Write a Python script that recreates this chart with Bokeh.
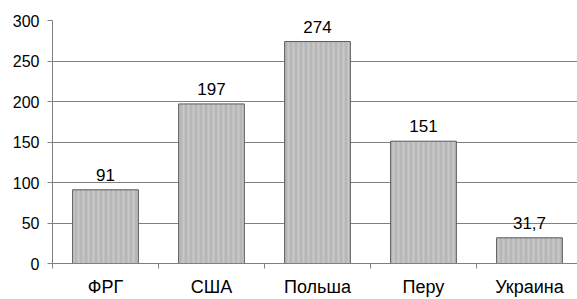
from bokeh.plotting import figure
from bokeh.models import ColumnDataSource, Range1d, FixedTicker
from bokeh.core.properties import value
from bokeh.embed import file_html
from bokeh.resources import INLINE

categories = ["ФРГ", "США", "Польша", "Перу", "Украина"]
values = [91, 197, 274, 151, 31.7]
value_labels = ["91", "197", "274", "151", "31,7"]
y_ticks = [0, 50, 100, 150, 200, 250, 300]

xs = list(range(len(categories)))
src = ColumnDataSource(dict(x=xs, top=values, lab=value_labels))

p = figure(width=577, height=299, output_backend="svg", toolbar_location=None,
           x_range=Range1d(-0.5, 4.453), y_range=Range1d(0, 300),
           min_border_left=52, min_border_right=0, min_border_top=20, min_border_bottom=36)
p.outline_line_color = None
p.background_fill_color = "white"
p.border_fill_color = "white"

p.vbar(x="x", top="top", bottom=0, width=0.62, source=src,
       fill_color="#b7b7b7", line_color="#5a5a5a", line_width=1,
       hatch_pattern="vertical_line", hatch_color="#c8c8c8", hatch_scale=5, hatch_weight=2)

p.text(x="x", y="top", text="lab", source=src, y_offset=-9,
       text_align="center", text_baseline="bottom",
       text_font=value("Liberation Sans"), text_font_size="17px", text_color="black")

# y axis
p.yaxis.ticker = FixedTicker(ticks=y_ticks)
p.yaxis.axis_line_color = "#808080"
p.yaxis.major_tick_line_color = "#808080"
p.yaxis.major_tick_out = 5
p.yaxis.major_tick_in = 0
p.yaxis.minor_tick_line_color = None
p.yaxis.major_label_text_font = "Liberation Sans"
p.yaxis.major_label_text_font_size = "16px"
p.yaxis.major_label_text_color = "black"
p.yaxis.major_label_standoff = 8

# x axis
p.xaxis.ticker = FixedTicker(ticks=xs, minor_ticks=[i - 0.5 for i in range(len(categories) + 1)])
p.xaxis.major_label_overrides = {i: c for i, c in zip(xs, categories)}
p.xaxis.axis_line_color = "#808080"
p.xaxis.major_tick_line_color = None
p.xaxis.major_tick_out = 0
p.xaxis.major_tick_in = 0
p.xaxis.minor_tick_line_color = "#808080"
p.xaxis.minor_tick_out = 5
p.xaxis.minor_tick_in = 0
p.xaxis.major_label_text_font = "Liberation Sans"
p.xaxis.major_label_text_font_size = "18px"
p.xaxis.major_label_text_color = "black"
p.xaxis.major_label_standoff = 8

p.xgrid.grid_line_color = None
p.ygrid.ticker = FixedTicker(ticks=y_ticks)
p.ygrid.grid_line_color = "#808080"
p.ygrid.grid_line_width = 1

open("out.html", "w").write(file_html(p, INLINE))
